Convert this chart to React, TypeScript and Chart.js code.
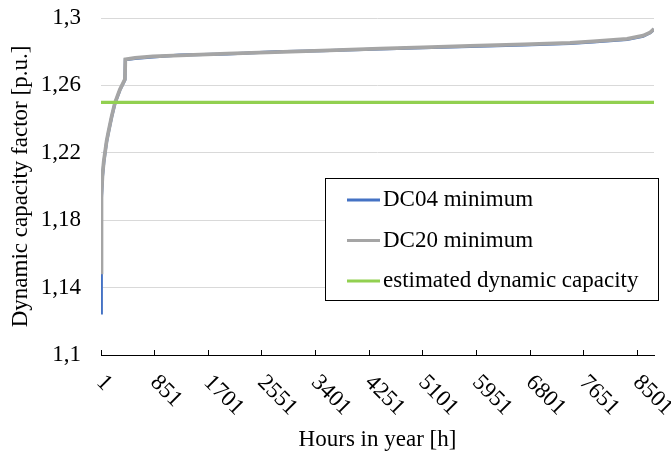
import React, { useEffect, useRef } from "react";
import { Chart, registerables } from "chart.js";

Chart.register(...registerables);

// ---- data ----
const dc04Hours = [1, 2, 6, 14, 25, 45, 64, 90, 116, 169, 222, 300, 380, 386, 540, 825, 1252, 2000, 2757, 3500, 4420, 5100, 5846, 6700, 7430, 7795, 8333, 8587, 8700, 8760];
const dc04Values = [1.125, 1.15, 1.172, 1.192, 1.206, 1.214, 1.2195, 1.2265, 1.2315, 1.241, 1.2493, 1.2572, 1.2633, 1.2752, 1.276, 1.2769, 1.2781, 1.2786, 1.2799, 1.2805, 1.2816, 1.2823, 1.2831, 1.284, 1.2849, 1.2858, 1.2873, 1.2891, 1.2912, 1.2932];

const dc20Hours = [1, 5, 12, 25, 45, 64, 90, 116, 169, 222, 300, 380, 386, 540, 825, 1252, 2000, 2757, 3500, 4420, 5100, 5846, 6700, 7430, 7795, 8333, 8587, 8700, 8760];
const dc20Values = [1.149, 1.175, 1.195, 1.207, 1.215, 1.22, 1.227, 1.232, 1.2415, 1.2497, 1.2575, 1.2636, 1.2754, 1.2763, 1.2772, 1.2778, 1.2788, 1.2797, 1.2807, 1.2818, 1.2826, 1.2834, 1.2843, 1.2852, 1.2861, 1.2876, 1.2895, 1.2915, 1.2935];

const estimatedHours = [1, 8760];
const estimatedValues = [1.25, 1.25];

const seriesLabels = ["DC04 minimum", "DC20 minimum", "estimated dynamic capacity"];
const seriesColors = ["#4472C4", "#A5A5A5", "#92D050"];

const xTickLabels = [1, 851, 1701, 2551, 3401, 4251, 5101, 5951, 6801, 7651, 8501];
const yTickValues = [1.1, 1.14, 1.18, 1.22, 1.26, 1.3];

const xTitle = "Hours in year [h]";
const yTitle = "Dynamic capacity factor [p.u.]";

const FONT = "'Liberation Serif', 'Times New Roman', serif";

const toPoints = (xs: number[], ys: number[]) => xs.map((x, i) => ({ x, y: ys[i] }));

const xLabelsPlugin = {
  id: "xLabelsRotated",
  afterDraw(chart: any) {
    const ctx = chart.ctx;
    const xs = chart.scales.x;
    const axisY = chart.chartArea.bottom;
    ctx.save();
    ctx.fillStyle = "#000";
    ctx.font = `23px ${FONT}`;
    ctx.textAlign = "left";
    ctx.textBaseline = "middle";
    xTickLabels.forEach((v) => {
      const px = xs.getPixelForValue(v);
      ctx.save();
      ctx.translate(px - 1, axisY + 24);
      ctx.rotate(Math.PI / 4);
      ctx.fillText(String(v), 0, 0);
      ctx.restore();
    });
    ctx.restore();
  },
};

const legendPlugin = {
  id: "insideLegend",
  afterDraw(chart: any) {
    const ctx = chart.ctx;
    const bx = 325.5, by = 178.5, bw = 333, bh = 122;
    ctx.save();
    ctx.fillStyle = "#fff";
    ctx.fillRect(bx, by, bw, bh);
    ctx.strokeStyle = "#000";
    ctx.lineWidth = 1;
    ctx.strokeRect(bx, by, bw, bh);
    ctx.font = `23px ${FONT}`;
    ctx.textAlign = "left";
    ctx.textBaseline = "middle";
    const rows = [200, 240.5, 281];
    chart.data.datasets.forEach((ds: any, i: number) => {
      const y = rows[i];
      ctx.strokeStyle = ds.borderColor;
      ctx.lineWidth = 3;
      ctx.lineCap = "butt";
      ctx.beginPath();
      ctx.moveTo(347, y);
      ctx.lineTo(380, y);
      ctx.stroke();
      ctx.fillStyle = "#000";
      ctx.fillText(ds.label, 383, y);
    });
    ctx.restore();
  },
};

export default function App() {
  const ref = useRef<HTMLCanvasElement | null>(null);
  useEffect(() => {
    if (!ref.current) return;
    const chart = new Chart(ref.current, {
      type: "line",
      data: {
        datasets: [
          {
            label: seriesLabels[0],
            data: toPoints(dc04Hours, dc04Values),
            borderColor: seriesColors[0],
            backgroundColor: seriesColors[0],
            borderWidth: 3,
            pointRadius: 0,
            tension: 0,
            order: 2,
          },
          {
            label: seriesLabels[1],
            data: toPoints(dc20Hours, dc20Values),
            borderColor: seriesColors[1],
            backgroundColor: seriesColors[1],
            borderWidth: 3.75,
            pointRadius: 0,
            tension: 0,
            order: 1,
          },
          {
            label: seriesLabels[2],
            data: toPoints(estimatedHours, estimatedValues),
            borderColor: seriesColors[2],
            backgroundColor: seriesColors[2],
            borderWidth: 3.25,
            pointRadius: 0,
            tension: 0,
            order: 0,
          },
        ],
      },
      options: {
        animation: false,
        responsive: false,
        maintainAspectRatio: false,
        layout: { padding: { left: 0, top: 18, right: 17, bottom: 0 } },
        plugins: {
          legend: { display: false },
          tooltip: { enabled: false },
        },
        scales: {
          x: {
            type: "linear",
            min: 1,
            max: 8760,
            afterBuildTicks: (scale: any) => {
              scale.ticks = xTickLabels.map((v) => ({ value: v }));
            },
            afterFit: (scale: any) => {
              scale.height = 102;
              scale.paddingLeft = 0;
              scale.paddingRight = 0;
            },
            ticks: { display: false },
            grid: {
              display: true,
              drawOnChartArea: false,
              drawTicks: true,
              tickLength: -5,
              color: "#000",
              lineWidth: 1,
            },
            border: { display: true, color: "#000", width: 1 },
            title: {
              display: true,
              text: xTitle,
              color: "#000",
              font: { family: FONT, size: 23 },
              padding: { top: 0, bottom: 3 },
            },
          },
          y: {
            type: "linear",
            min: 1.1,
            max: 1.3,
            afterBuildTicks: (scale: any) => {
              scale.ticks = yTickValues.map((v) => ({ value: v }));
            },
            afterFit: (scale: any) => {
              scale.width = 101;
              scale.paddingTop = 0;
              scale.paddingBottom = 0;
            },
            ticks: {
              color: "#000",
              padding: 20,
              font: { family: FONT, size: 23 },
              callback: (v: any) => String(Math.round(Number(v) * 100) / 100).replace(".", ","),
            },
            grid: {
              color: "#d9d9d9",
              lineWidth: 1,
              drawTicks: false,
            },
            border: { display: false },
            title: {
              display: true,
              text: yTitle,
              color: "#000",
              font: { family: FONT, size: 23 },
              padding: { top: 7, bottom: 0 },
            },
          },
        },
      },
      plugins: [xLabelsPlugin, legendPlugin],
    } as any);
    return () => chart.destroy();
  }, []);
  return (
    <canvas
      ref={ref}
      width={671}
      height={457}
      style={{ position: "absolute", left: 0, top: 0, display: "block" }}
    />
  );
}
